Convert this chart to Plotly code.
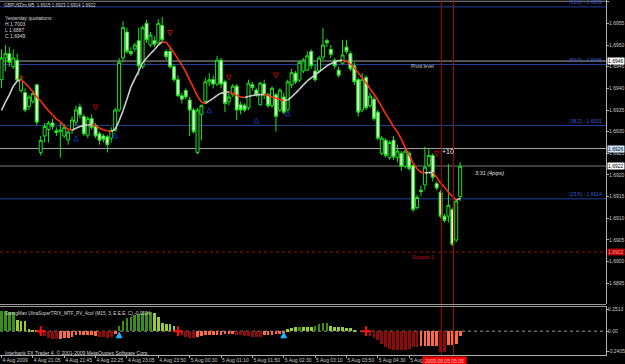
import plotly.graph_objects as go

# ---------------- data (prices in pips above 1.6900) ----------------
BASE = 1.6900
PIP = 0.0001

open_pips = [42, 47, 48, 45, 46.5, 39.5, 39, 35.8, 37, 40.8,
             25.2, 29, 30.5, 32, 30.2, 30, 29, 28.1, 30.4, 32.2,
             35.7, 33.5, 29.2, 33, 31.5, 29.5, 29, 28.8, 28.5, 30.3,
             35, 47, 53, 48.5, 49.1, 51, 45, 55, 50, 51,
             50.5, 54.5, 48.5, 48.5, 45, 42, 38.3, 39.5, 37.3, 35,
             25.2, 34, 37, 41.5, 42, 41, 46.5, 41.5, 37, 38.5,
             40.5, 36.2, 36, 35.5, 40.8, 39.6, 36.2, 41, 38.5, 36,
             38.5, 35, 38, 35, 40.8, 43.5, 41.9, 44, 44.2, 48.5,
             44, 44, 47.2, 51, 49, 46.5, 44.2, 45.8, 49.5, 48,
             45.2, 42, 35, 42.5, 36, 37.5, 34.5, 25, 28, 24,
             28, 24, 25, 22, 25, 22.2, 12.5, 16.5, 17.7, 22.3,
             24.5, 18, 16, 10.5, 10.5, 12, 5, 15]
high_pips = [49, 50, 49.5, 49, 48, 43, 40, 38.5, 39.5, 41,
             29, 32, 32.5, 33, 31, 32, 31.8, 30.5, 33.5, 36,
             36.5, 34, 33.5, 34, 32, 30, 29.5, 29.2, 31, 35.5,
             47, 55.5, 54, 49.5, 50.5, 54, 54.5, 55.8, 53, 52,
             56, 56.5, 49, 49.5, 45.5, 43, 39, 40, 38, 35.5,
             35.5, 36.3, 42.5, 43.5, 43, 47.5, 47, 42, 39, 41,
             41, 37, 36.5, 42, 41.5, 40, 41.5, 42, 39, 40.5,
             39, 40, 39, 42, 44.5, 44, 46.5, 47, 48.5, 49,
             45.5, 47.5, 54, 51.5, 50, 47, 45, 51.2, 51.2, 48.5,
             46, 42.5, 43.5, 43, 39, 38, 35, 29, 28.5, 28,
             29, 27, 25.5, 26.5, 25.5, 22.5, 15.5, 17.5, 26.5, 26,
             25, 18.5, 16.5, 11, 22.5, 12.5, 14.5, 23]
low_pips = [40, 44, 45, 44.5, 41.5, 39, 34.5, 35, 36.5, 31.5,
            24.5, 27.5, 27.5, 30.5, 29, 24, 28.5, 27, 29.5, 31.5,
            33, 29, 28.5, 30.5, 28.5, 27, 27.5, 25.2, 27.5, 30,
            34.5, 46, 48, 47.5, 48.5, 43, 44.5, 50.5, 49.5, 49.5,
            50, 50.8, 46.5, 44.5, 41.5, 38, 36.5, 37.5, 29, 29.5,
            24.8, 28, 36.5, 40.5, 40, 40.5, 40, 34.5, 36, 38,
            32.7, 34, 34.5, 35, 39.5, 38, 36, 37.5, 35.5, 35.5,
            30, 34.5, 34, 34.5, 40, 41, 41.5, 43.5, 44, 44.5,
            41.5, 43.5, 46.5, 49.5, 47, 44.5, 42.5, 45.5, 48, 44,
            40.8, 33.5, 34.5, 35, 35.5, 32.5, 28, 24.5, 24, 23.5,
            23.5, 23, 21, 21.5, 21, 11.5, 12, 15.2, 16.5, 21.8,
            18.5, 16.5, 10, 9, 9, 3.6, 4.5, 14]
close_pips = [47, 48, 46, 47, 41.9, 42, 35, 38, 38.8, 32.2,
              28, 31.2, 32, 31.2, 29.8, 30.4, 31, 29.9, 32.7, 35,
              33.9, 29.5, 33, 31, 29, 28, 28.2, 27, 30.3, 35,
              46, 54, 48.5, 48, 50, 45.2, 54, 51.2, 52.3, 50.2,
              55, 51.2, 47.3, 45, 42, 38.3, 37.5, 38, 35, 30,
              35, 36, 41.5, 42, 41, 46.5, 41, 36.5, 38, 40.5,
              35, 35, 35, 41.2, 40.2, 38.5, 41.2, 38.5, 36, 40,
              33.5, 39.6, 34.5, 41.5, 43.6, 41.5, 46, 46.5, 47.5, 45.2,
              42, 47, 50, 50.5, 47.8, 45.2, 43, 47.7, 48.5, 44.5,
              41.5, 34.5, 42, 35.5, 38.2, 33, 28.5, 28.5, 24.5, 27.5,
              24.2, 25.5, 22, 25.5, 21.5, 12, 14.8, 16.2, 21.8, 24.5,
              19.5, 17, 10.5, 9.5, 13, 4, 14, 22]

# moving average (pips)
ma_pips = [34.9, 36.8, 38.5, 40.5, 41.7, 41.95, 41.2, 40.3, 39.2, 38.0,
           37.1, 35.9, 34.8, 33.9, 32.9, 32.3, 31.3, 30.6, 30.35, 30.8,
           31.2, 31.45, 31.55, 31.6, 31.3, 30.85, 30.4, 30.2, 30.05, 30.6,
           32.5, 34.8, 37.5, 40.3, 42.2, 44.0, 45.9, 47.0, 48.0, 48.9,
           50.0, 50.7, 50.6, 49.5, 48.2, 46.8, 45.4, 43.8, 41.9, 40.1,
           38.2, 36.8, 36.5, 37.1, 37.7, 38.4, 38.9, 39.0, 39.2, 38.8,
           38.4, 38.0, 37.9, 38.1, 38.35, 38.5, 38.55, 38.6, 38.35, 38.0,
           37.7, 37.4, 37.2, 37.3, 38.0, 38.9, 39.8, 40.8, 41.7, 42.4,
           43.1, 43.8, 44.5, 45.2, 45.7, 46.1, 46.4, 46.5, 46.3, 45.6,
           44.7, 43.6, 42.4, 41.3, 39.9, 38.7, 37.3, 35.7, 34.1, 32.7,
           31.1, 29.9, 28.3, 26.2, 24.6, 22.8, 21.4, 20.6, 20.5, 20.55,
           20.6, 19.5, 18.1, 17.2, 16.0, 15.1, 14.2, 14.6]

# oscillator histogram (value, colour class: G=rising+, L=falling+, R=falling-, O=rising-)
osc_vals = [0.24, 0.24, 0.23, 0.23, 0.13, 0.12, 0.12, 0.02, 0.01, 0.005,
            -0.03, -0.06, -0.08, -0.09, -0.09, -0.09, -0.08, -0.08, -0.07, -0.05,
            -0.04, -0.04, -0.04, -0.05, -0.06, -0.07, -0.07, -0.08, -0.07, -0.03,
            0.06, 0.12, 0.15, 0.17, 0.19, 0.20, 0.21, 0.22, 0.22, 0.21,
            0.17, 0.10, 0.09, 0.09, 0.06, -0.02, -0.05, -0.07, -0.08, -0.08,
            -0.07, -0.06, -0.05, -0.05, -0.04, -0.04, -0.04, -0.03, -0.03, -0.03,
            -0.04, -0.05, -0.06, -0.06, -0.07, -0.07, -0.07, -0.05, -0.04, -0.04,
            -0.03, -0.03, -0.01, 0.02, 0.04, 0.045, 0.05, 0.05, 0.045, 0.045,
            0.06, 0.09, 0.10, 0.10, 0.06, 0.05, 0.045, 0.045, 0.04, 0.04,
            0.01, 0.0, 0.0, -0.04, -0.06, -0.08, -0.10, -0.15, -0.19, -0.21,
            -0.22, -0.22, -0.22, -0.22, -0.21, -0.19, -0.19, -0.17, -0.17, -0.17,
            -0.17, -0.17, -0.24, -0.24, -0.16, -0.16, -0.15, -0.0524]
osc_class = ("GGGGLLLLLL" "RRRRROOOOO" "OOOOORRRRO" "GGGGGGGGGL"
             "LLLLLRRRRR" "OOOOOOOOOO" "RRRRRRROOO" "OOOLLLGLLL"
             "GGGGLLLLLL" "LLLRRRRRRR" "RRRRRRROOO" "OORROOOO")

# signal markers (bar index, pips)
sell_arrow_bar = [5, 24, 43, 58, 70, 111]
sell_arrow_pips = [41.5, 35.0, 52.2, 41.9, 42.4, 24.3]
buy_arrow_bar = [19, 29, 53, 65, 73]
buy_arrow_pips = [29.0, 29.7, 35.5, 33.1, 34.8]
osc_sell_bar = [10, 45, 93]
osc_buy_bar = [30, 72]

# levels
top_level = 1.69601
fib_levels = [1.69588, 1.69455, 1.69314, 1.69145]
fib_labels = ["(61.8) - 1.6959", "(50.0) - 1.6946", "(38.2) - 1.6931", "(23.6) - 1.6914"]
pivot_level = 1.69463
pivot_box = "1.6946"
line_26 = 1.69261
bid_level = 1.69221
support_level = 1.69022
vline_bars = [112.2, 115.3]

price_ticks = [1.6895 + 0.0005 * k for k in range(14)]
osc_ticks = [-0.2405, 0.0, 0.2513]
osc_tick_text = ["-0.2405", "0.00", "0.2513"]

time_tick_bars = [0, 8, 16, 24, 32, 40, 48, 56, 64, 72, 80, 88, 96, 104]
time_tick_text = ["4 Aug 2009", "4 Aug 21:05", "4 Aug 21:45", "4 Aug 22:25", "4 Aug 23:05",
                  "4 Aug 23:50", "5 Aug 00:30", "5 Aug 01:10", "5 Aug 01:50", "5 Aug 02:30",
                  "5 Aug 03:10", "5 Aug 03:50", "5 Aug 04:30", "5 Aug"]

# ---------------- build ----------------
def pr(v):
    return BASE + v * PIP

n = len(open_pips)
bars = list(range(n))
o = [pr(v) for v in open_pips]
h = [pr(v) for v in high_pips]
l = [pr(v) for v in low_pips]
c = [pr(v) for v in close_pips]
ma = [pr(v) for v in ma_pips]

W, H = 625, 364
MR, MB = 19, 9
PW, PH = W - MR, H - MB
FONT = "Liberation Sans Narrow, Liberation Sans, Arial"
FS = 5


def xp(px):
    return px / PW


def yp(py):
    return (PH - py) / PH


fig = go.Figure()

GREEN = "#1ee01e"
fig.add_trace(go.Candlestick(
    x=bars, open=o, high=h, low=l, close=c,
    increasing=dict(line=dict(color=GREEN, width=1), fillcolor="#000000"),
    decreasing=dict(line=dict(color=GREEN, width=1), fillcolor="#d6ffcc"),
    whiskerwidth=0, xaxis="x", yaxis="y", hoverinfo="skip", showlegend=False))

# coloured MA segments
wx, wy, rx, ry = [], [], [], []
for i in range(1, n):
    if ma[i] >= ma[i - 1]:
        wx += [i - 1, i, None]
        wy += [ma[i - 1], ma[i], None]
    else:
        rx += [i - 1, i, None]
        ry += [ma[i - 1], ma[i], None]
fig.add_trace(go.Scatter(x=wx, y=wy, mode="lines", line=dict(color="#d0d0d0", width=1.6),
                         xaxis="x", yaxis="y", hoverinfo="skip", showlegend=False))
fig.add_trace(go.Scatter(x=rx, y=ry, mode="lines", line=dict(color="#ff3010", width=1.6),
                         xaxis="x", yaxis="y", hoverinfo="skip", showlegend=False))

fig.add_trace(go.Scatter(x=sell_arrow_bar, y=[pr(v) for v in sell_arrow_pips], mode="markers",
                         marker=dict(symbol="arrow-down-open", size=5, color="#b00000", line=dict(width=1, color="#b00000")),
                         xaxis="x", yaxis="y", hoverinfo="skip", showlegend=False))
fig.add_trace(go.Scatter(x=buy_arrow_bar, y=[pr(v) for v in buy_arrow_pips], mode="markers",
                         marker=dict(symbol="arrow-up-open", size=5, color="#1030a0", line=dict(width=1, color="#1030a0")),
                         xaxis="x", yaxis="y", hoverinfo="skip", showlegend=False))

cmap = {"G": "#3a8f1c", "L": "#9acd32", "R": "#8c0c0c", "O": "#ff6a45"}
fig.add_trace(go.Bar(x=bars, y=osc_vals, marker=dict(color=[cmap[k] for k in osc_class], line=dict(width=0)),
                     width=0.7, xaxis="x", yaxis="y2", hoverinfo="skip", showlegend=False))
fig.add_trace(go.Scatter(x=osc_sell_bar, y=[0] * len(osc_sell_bar), mode="markers",
                         marker=dict(symbol="cross-thin", size=7, line=dict(width=2, color="#ff1010")),
                         xaxis="x", yaxis="y2", hoverinfo="skip", showlegend=False))
fig.add_trace(go.Scatter(x=osc_buy_bar, y=[0] * len(osc_buy_bar), mode="markers",
                         marker=dict(symbol="arrow-up", size=7, color="#20b0ff"),
                         xaxis="x", yaxis="y2", hoverinfo="skip", showlegend=False))

shapes = []
def hline(y, color, width=1, dash="solid", yref="y"):
    shapes.append(dict(type="line", xref="paper", x0=0, x1=1, yref=yref, y0=y, y1=y,
                       line=dict(color=color, width=width, dash=dash), layer="below"))

hline(top_level, "#8a8a8a")
for lv in fib_levels:
    hline(lv, "#24409a")
hline(pivot_level, "#a8a8a8")
hline(line_26, "#a8a8a8")
hline(bid_level, "#3c3c3c", width=2)
hline(support_level, "#9a1010", dash="dot")
hline(0, "#9a9a9a", dash="dot", yref="y2")
for v in vline_bars:
    shapes.append(dict(type="line", xref="x", x0=v, x1=v, yref="paper", y0=0, y1=1,
                       line=dict(color="#b00000", width=1), layer="above"))
for py in (304.5, 306.5):
    shapes.append(dict(type="line", xref="paper", x0=0, x1=1, yref="paper", y0=yp(py), y1=yp(py),
                       line=dict(color="#9a9a9a", width=1)))

ann = []
def txt(x, y, s, color="#d8d8d8", size=FS, xanchor="left", yanchor="top", **kw):
    ann.append(dict(x=x, y=y, text=s, showarrow=False, xanchor=xanchor, yanchor=yanchor,
                    font=dict(family=FONT, size=size, color=color), **kw))

txt(xp(2), yp(0.5), "GBPUSDm,M5  1.6915 1.6923 1.6914 1.6922", size=4.5, xref="paper", yref="paper")
txt(xp(3), yp(13), "Yesterday quotations:", xref="paper", yref="paper")
txt(xp(3), yp(19), "H 1.7003", xref="paper", yref="paper")
txt(xp(3), yp(25), "L 1.6887", xref="paper", yref="paper")
txt(xp(3), yp(30.5), "C 1.6949", xref="paper", yref="paper")
txt(xp(3), yp(308.5), "SwingMan UltraSuperTRIX_MTF_PV_4col (M15, 3, E.E.E, C) -0.0524", size=4.7,
    xref="paper", yref="paper")
txt(xp(3), yp(348), "Interbank FX Trader 4, © 2001-2009 MetaQuotes Software Corp.", xref="paper", yref="paper")
for lv, s in zip(fib_levels, fib_labels):
    txt(xp(604), lv, s, color="#3c5cd0", xanchor="right", yanchor="bottom", xref="paper", yref="y")
txt(xp(409), pivot_level, "Pivot level", color="#c8c8c8", yanchor="top", xref="paper", yref="y")
txt(xp(410), support_level, "Support 1", color="#c01010", yanchor="top", xref="paper", yref="y")
txt(xp(440), yp(146), "+10", color="#e8e8e8", size=7, xref="paper", yref="paper")
txt(xp(473), yp(168), "<i>3:31 (4pips)</i>", color="#e0e0e0", size=5.5, xref="paper", yref="paper")

def box(y, s, bg, fg="#000000"):
    ann.append(dict(x=1, y=y, xref="paper", yref="y", text=s, showarrow=False, xanchor="left",
                    yanchor="middle", xshift=1, bgcolor=bg, borderpad=0,
                    font=dict(family=FONT, size=FS, color=fg)))

box(pivot_level, pivot_box, "#ffffff")
box(line_26, "1.6926", "#cfe6ff")
box(bid_level, "1.6922", "#ffffff")
box(support_level, "1.6902", "#b00000", "#ff9090")
ann.append(dict(x=xp(422), y=yp(355.5), xref="paper", yref="paper", text=" 2009.08.05 05:05 ", showarrow=False,
                xanchor="left", yanchor="top", bgcolor="#ff0000", borderpad=0.5,
                font=dict(family=FONT, size=FS, color="#ffc8c8")))

axis_font = dict(family=FONT, size=FS, color="#c8c8c8")
fig.update_layout(
    template="none",
    width=W, height=H, margin=dict(l=0, r=MR, t=0, b=MB, pad=0),
    paper_bgcolor="#000000", plot_bgcolor="#000000", showlegend=False,
    shapes=shapes, annotations=ann, bargap=0, boxgap=0.05, boxgroupgap=0.2,
    xaxis=dict(range=[-0.383, 154.2], anchor="y2", showgrid=False, zeroline=False, automargin=False,
               showline=True, linecolor="#b0b0b0", ticks="outside", ticklen=2, tickcolor="#b0b0b0",
               tickvals=time_tick_bars, ticktext=time_tick_text, ticklabelposition="outside right",
               tickangle=0, tickfont=axis_font, rangeslider=dict(visible=False), fixedrange=True),
    yaxis=dict(domain=[yp(304), 1], range=[1.689022, 1.696039], side="right", anchor="x",
               showgrid=False, zeroline=False, showline=True, linecolor="#b0b0b0", automargin=False,
               ticks="outside", ticklen=2, tickcolor="#b0b0b0", tickvals=price_ticks,
               tickformat=".4f", tickfont=axis_font, ticklabelstandoff=-1),
    yaxis2=dict(domain=[0, yp(306)], range=[-0.279, 0.295], side="right", anchor="x",
                showgrid=False, zeroline=False, showline=True, linecolor="#b0b0b0", automargin=False,
                ticks="outside", ticklen=2, tickcolor="#b0b0b0", tickvals=osc_ticks,
                ticktext=osc_tick_text, tickfont=axis_font, ticklabelstandoff=-2),
)

fig.write_html("out.html")
